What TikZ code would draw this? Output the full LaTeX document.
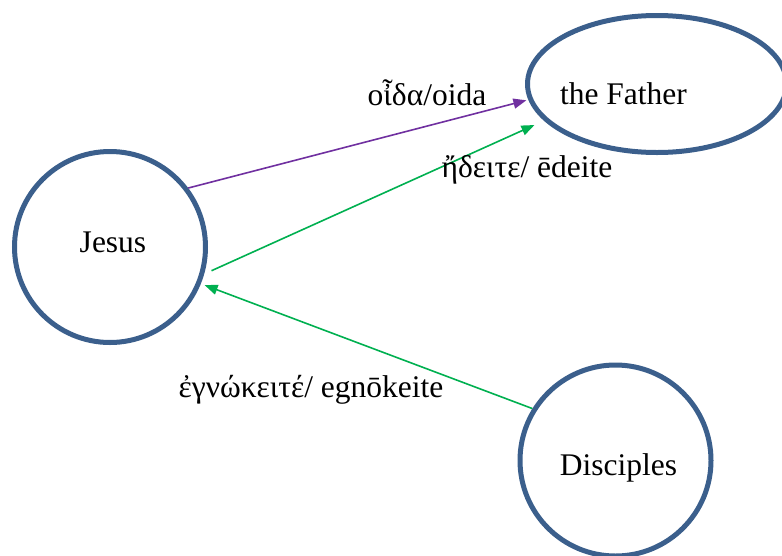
\documentclass[tikz,border=0pt]{standalone}
\usepackage{fontspec}
\setmainfont{Liberation Serif}
\usetikzlibrary{arrows.meta, shapes.geometric}
\definecolor{ringblue}{RGB}{59,95,140}
\definecolor{knowpurple}{RGB}{112,48,160}
\definecolor{knowgreen}{RGB}{0,176,80}

\begin{document}
\begin{tikzpicture}[x=1pt, y=-1pt,
  every node/.style={font=\fontsize{31.5}{36}\selectfont},
  person/.style={circle, draw=ringblue, line width=5pt, minimum size=191pt, inner sep=0pt},
  know/.style={line width=1.6pt, -{Triangle[length=13pt, width=10pt]}}]

  % 画布大小
  \useasboundingbox (0,0) rectangle (782,555);

  % 人物
  \node[person, label={[xshift=3pt, yshift=4.4pt]center:Jesus}] (jesus) at (110,247) {};
  \node[person, label={[xshift=3pt, yshift=-7.1pt]center:Disciples}] (disciples) at (615.5,460.5) {};
  \node[ellipse, draw=ringblue, line width=5pt, minimum width=259pt, minimum height=137pt, inner sep=0pt,
    label={[xshift=-33.5pt, yshift=-10.2pt]center:the Father}] (father) at (657,84) {};

  % 认识
  \draw[know, knowpurple, shorten >=2pt] (jesus.37) -- (father.187.5);
  \draw[know, knowgreen, shorten <=8pt, shorten >=10.5pt] (jesus.-16.6) -- (father.198.6);
  \draw[know, knowgreen, shorten >=4pt] (disciples.148.3) -- (jesus.-22.9);

  % 动词
  \node[anchor=base] (oida) at (427,105) {οἶδα/oida};
  \node[anchor=base] (edeite) at (527,177) {ἤδειτε/ ēdeite};
  \node[anchor=base] (egnokeite) at (311,397) {ἐγνώκειτέ/ egnōkeite};

\end{tikzpicture}
\end{document}
